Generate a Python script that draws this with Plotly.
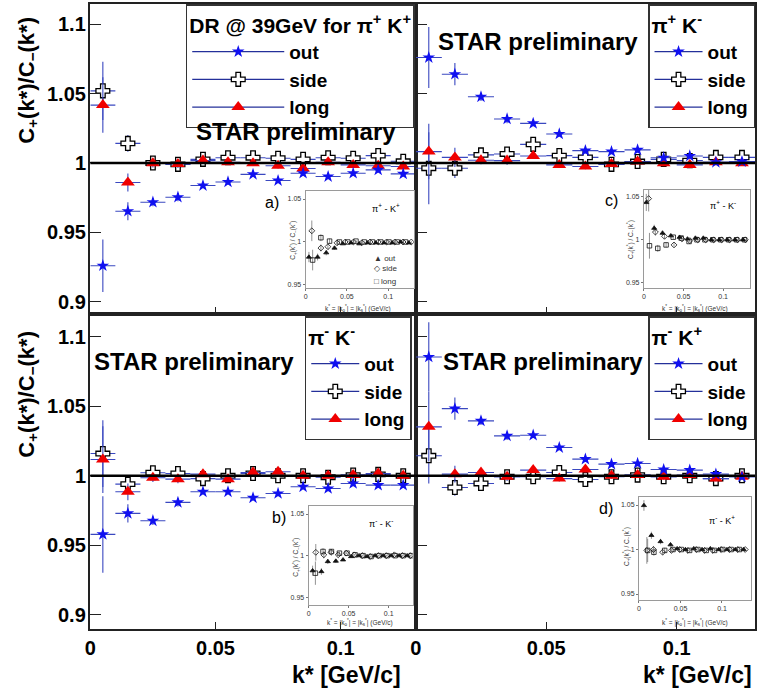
import plotly.graph_objects as go

W, H = 758, 691
def fx(px):
    return px / W
def fy(py):
    return 1 - py / H

# ---------------- data ----------------
k_star = [0.005, 0.015, 0.025, 0.035, 0.045, 0.055, 0.065, 0.075, 0.085, 0.095, 0.105, 0.115, 0.125]
k_half_bin = 0.005

# pi+ K+
pipKp_out = [0.9259, 0.9652, 0.9717, 0.9753, 0.9837, 0.9863, 0.9918, 0.9873, 0.9926, 0.9902, 0.9926, 0.9950, 0.9921]
pipKp_out_err = [0.019, 0.0065, 0.003, 0.003, 0.002, 0.002, 0.002, 0.002, 0.002, 0.002, 0.002, 0.002, 0.002]
pipKp_side = [1.0520, 1.0141, 1.0000, 0.9990, 1.0026, 1.0038, 1.0038, 1.0034, 1.0026, 1.0038, 1.0034, 1.0053, 1.0012]
pipKp_side_err = [0.021, 0.006, 0.003, 0.003, 0.002, 0.002, 0.002, 0.002, 0.002, 0.002, 0.002, 0.002, 0.002]
pipKp_long = [1.0417, 0.9859, 0.9998, 0.9993, 1.0017, 1.0005, 0.9998, 0.9980, 0.9960, 1.0005, 0.9986, 0.9980, 0.9974]
pipKp_long_err = [0.020, 0.0065, 0.003, 0.003, 0.002, 0.002, 0.002, 0.002, 0.002, 0.002, 0.002, 0.002, 0.002]

# pi+ K-
pipKm_out = [1.0760, 1.0640, 1.0477, 1.0317, 1.0285, 1.0209, 1.0089, 1.0082, 1.0094, 1.0038, 1.0050, 1.0005, 1.0010]
pipKm_out_err = [0.022, 0.008, 0.003, 0.003, 0.002, 0.002, 0.002, 0.002, 0.002, 0.002, 0.002, 0.002, 0.002]
pipKm_side = [0.9962, 0.9962, 1.0058, 1.0065, 1.0134, 1.0053, 1.0040, 0.9990, 1.0010, 1.0026, 1.0017, 1.0040, 1.0040]
pipKm_side_err = [0.026, 0.007, 0.003, 0.003, 0.002, 0.002, 0.002, 0.002, 0.002, 0.002, 0.002, 0.002, 0.002]
pipKm_long = [1.0082, 1.0040, 1.0020, 1.0017, 1.0050, 0.9986, 0.9974, 0.9993, 1.0010, 0.9998, 0.9986, 1.0005, 0.9998]
pipKm_long_err = [0.020, 0.007, 0.003, 0.003, 0.002, 0.002, 0.002, 0.002, 0.002, 0.002, 0.002, 0.002, 0.002]

# pi- K-
pimKm_out = [0.9579, 0.9730, 0.9677, 0.9809, 0.9885, 0.9885, 0.9842, 0.9873, 0.9921, 0.9909, 0.9945, 0.9933, 0.9933]
pimKm_out_err = [0.0275, 0.0066, 0.003, 0.003, 0.002, 0.002, 0.002, 0.002, 0.002, 0.002, 0.002, 0.002, 0.002]
pimKm_side = [1.0160, 0.9940, 1.0022, 1.0017, 0.9980, 1.0000, 1.0017, 1.0000, 1.0000, 0.9990, 1.0005, 1.0010, 1.0000]
pimKm_side_err = [0.024, 0.006, 0.003, 0.003, 0.002, 0.002, 0.002, 0.002, 0.002, 0.002, 0.002, 0.002, 0.002]
pimKm_long = [1.0117, 0.9885, 0.9986, 0.9976, 1.0012, 0.9976, 1.0024, 1.0029, 1.0000, 1.0000, 1.0005, 1.0017, 1.0000]
pimKm_long_err = [0.024, 0.006, 0.003, 0.003, 0.002, 0.002, 0.002, 0.002, 0.002, 0.002, 0.002, 0.002, 0.002]

# pi- K+
pimKp_out = [1.0854, 1.0483, 1.0395, 1.0287, 1.0292, 1.0203, 1.0120, 1.0084, 1.0089, 1.0045, 1.0041, 1.0012, 0.9993]
pimKp_out_err = [0.025, 0.008, 0.003, 0.003, 0.002, 0.002, 0.002, 0.002, 0.002, 0.002, 0.002, 0.002, 0.002]
pimKp_side = [1.0144, 0.9916, 0.9945, 0.9993, 0.9993, 1.0024, 0.9974, 0.9993, 1.0005, 0.9993, 1.0000, 0.9980, 1.0000]
pimKp_side_err = [0.020, 0.006, 0.003, 0.003, 0.002, 0.002, 0.002, 0.002, 0.002, 0.002, 0.002, 0.002, 0.002]
pimKp_long = [1.0352, 1.0012, 1.0024, 0.9993, 1.0041, 0.9980, 1.0045, 1.0000, 1.0005, 0.9993, 1.0005, 0.9980, 0.9993]
pimKp_long_err = [0.025, 0.006, 0.003, 0.003, 0.002, 0.002, 0.002, 0.002, 0.002, 0.002, 0.002, 0.002, 0.002]

# insets (earlier analysis)
a_out_k = [0.004, 0.0145, 0.025, 0.035, 0.045, 0.055, 0.065, 0.075, 0.085, 0.095, 0.105, 0.115, 0.125]
a_out = [0.9825, 0.9825, 0.9875, 0.993, 0.998, 0.999, 0.998, 0.999, 0.999, 0.999, 0.999, 1.0, 0.999]
a_out_err = [0.006, 0.004, 0.003, 0.002, 0.001, 0.001, 0.001, 0.001, 0.001, 0.001, 0.001, 0.001, 0.001]
a_side_k = [0.0075, 0.0185, 0.027, 0.038, 0.048, 0.058, 0.068, 0.078, 0.088, 0.098, 0.108, 0.118, 0.128]
a_side = [1.013, 0.993, 0.9945, 0.999, 1.0, 1.0, 0.999, 1.0, 1.0, 1.0, 1.0, 1.0, 1.0]
a_side_err = [0.012, 0.004, 0.003, 0.002, 0.001, 0.001, 0.001, 0.001, 0.001, 0.001, 0.001, 0.001, 0.001]
a_long_k = [0.0085, 0.0185, 0.029, 0.041, 0.051, 0.061, 0.071, 0.081, 0.091, 0.101, 0.111, 0.121]
a_long = [0.979, 1.005, 1.001, 1.0, 1.0, 1.001, 1.0, 1.0, 1.0, 1.0, 1.0, 1.0]
a_long_err = [0.012, 0.004, 0.003, 0.002, 0.001, 0.001, 0.001, 0.001, 0.001, 0.001, 0.001, 0.001]

c_out_k = [0.003, 0.013, 0.0235, 0.034, 0.045, 0.055, 0.065, 0.075, 0.085, 0.095, 0.105, 0.115, 0.125]
c_out = [1.0435, 1.0135, 1.0078, 1.0047, 1.003, 1.001, 1.002, 1.002, 1.0, 1.0, 1.0, 1.0, 1.0]
c_out_err = [0.010, 0.004, 0.003, 0.002, 0.001, 0.001, 0.001, 0.001, 0.001, 0.001, 0.001, 0.001, 0.001]
c_side_k = [0.006, 0.0145, 0.026, 0.038, 0.048, 0.058, 0.068, 0.078, 0.088, 0.098, 0.108, 0.118, 0.128]
c_side = [1.048, 1.009, 1.004, 0.994, 1.001, 0.999, 1.0, 1.0, 1.0, 1.0, 1.0, 1.0, 1.0]
c_side_err = [0.015, 0.004, 0.003, 0.002, 0.001, 0.001, 0.001, 0.001, 0.001, 0.001, 0.001, 0.001, 0.001]
c_long_k = [0.007, 0.0175, 0.028, 0.037, 0.047, 0.057, 0.067, 0.077, 0.087, 0.097, 0.107, 0.117, 0.127]
c_long = [0.993, 0.990, 0.994, 1.003, 1.002, 0.998, 1.0, 1.0, 1.0, 1.0, 1.0, 1.0, 1.0]
c_long_err = [0.015, 0.004, 0.003, 0.002, 0.001, 0.001, 0.001, 0.001, 0.001, 0.001, 0.001, 0.001, 0.001]

b_out_k = [0.005, 0.016, 0.024, 0.034, 0.043, 0.053, 0.063, 0.073, 0.083, 0.093, 0.103, 0.113, 0.123]
b_out = [0.982, 0.981, 0.993, 0.9935, 0.995, 0.999, 1.0, 0.999, 1.0, 1.0, 1.0, 1.0, 1.0]
b_out_err = [0.006, 0.004, 0.003, 0.002, 0.001, 0.001, 0.001, 0.001, 0.001, 0.001, 0.001, 0.001, 0.001]
b_side_k = [0.009, 0.019, 0.028, 0.037, 0.047, 0.057, 0.067, 0.077, 0.087, 0.097, 0.107, 0.117, 0.127]
b_side = [1.004, 1.001, 1.004, 1.001, 1.003, 1.001, 1.0, 0.999, 1.0, 1.0, 1.001, 1.0, 1.0]
b_side_err = [0.010, 0.004, 0.003, 0.002, 0.001, 0.001, 0.001, 0.001, 0.001, 0.001, 0.001, 0.001, 0.001]
b_long_k = [0.0085, 0.018, 0.0285, 0.0385, 0.048, 0.058, 0.068, 0.078, 0.088, 0.098, 0.108, 0.118, 0.128]
b_long = [0.979, 1.005, 1.005, 1.003, 1.003, 1.001, 1.0, 0.999, 1.0, 1.0, 1.0, 1.0, 1.0]
b_long_err = [0.014, 0.004, 0.003, 0.002, 0.001, 0.001, 0.001, 0.001, 0.001, 0.001, 0.001, 0.001, 0.001]

d_out_k = [0.006, 0.015, 0.026, 0.038, 0.046, 0.056, 0.066, 0.076, 0.086, 0.096, 0.106, 0.116, 0.126]
d_out = [1.0495, 1.016, 1.009, 1.0054, 1.001, 1.0, 1.001, 1.0, 1.001, 1.0, 1.0, 1.0, 1.0]
d_out_err = [0.006, 0.004, 0.003, 0.002, 0.001, 0.001, 0.001, 0.001, 0.001, 0.001, 0.001, 0.001, 0.001]
d_side_k = [0.0095, 0.0175, 0.0285, 0.039, 0.049, 0.059, 0.069, 0.079, 0.089, 0.099, 0.109, 0.119, 0.128]
d_side = [0.999, 1.0, 0.997, 0.999, 1.0, 0.999, 1.0, 0.999, 0.999, 1.0, 1.0, 1.0, 1.0]
d_side_err = [0.015, 0.004, 0.003, 0.002, 0.001, 0.001, 0.001, 0.001, 0.001, 0.001, 0.001, 0.001, 0.001]
d_long_k = [0.0105, 0.018, 0.031, 0.041, 0.051, 0.061, 0.071, 0.081, 0.091, 0.101, 0.111, 0.121]
d_long = [0.999, 0.997, 0.999, 1.0, 1.0, 0.999, 1.0, 0.999, 0.999, 1.0, 1.0, 1.0]
d_long_err = [0.013, 0.004, 0.003, 0.002, 0.001, 0.001, 0.001, 0.001, 0.001, 0.001, 0.001, 0.001]

y_ticks = [0.9, 0.95, 1.0, 1.05, 1.1]
y_tick_labels = ["0.9", "0.95", "1", "1.05", "1.1"]
x_ticks = [0, 0.05, 0.1]
x_tick_labels = ["0", "0.05", "0.1"]
inset_y_ticks = [0.95, 1.0, 1.05]
inset_y_tick_labels = ["0.95", "1", "1.05"]

# ---------------- style ----------------
FONT = "Liberation Sans"
BLUE = "#1010f0"
RED = "#f00000"
ERRC = "#3a48c0"
LEGLINE = "#24309a"

fig = go.Figure()

panels = [
    ("", pipKp_out, pipKp_out_err, pipKp_side, pipKp_side_err, pipKp_long, pipKp_long_err, "legend",
     "DR @ 39GeV for π<sup>+</sup> K<sup>+</sup>"),
    ("2", pipKm_out, pipKm_out_err, pipKm_side, pipKm_side_err, pipKm_long, pipKm_long_err, "legend2",
     "π<sup>+</sup> K<sup>-</sup>"),
    ("3", pimKm_out, pimKm_out_err, pimKm_side, pimKm_side_err, pimKm_long, pimKm_long_err, "legend3",
     "π<sup>-</sup> K<sup>-</sup>"),
    ("4", pimKp_out, pimKp_out_err, pimKp_side, pimKp_side_err, pimKp_long, pimKp_long_err, "legend4",
     "π<sup>-</sup> K<sup>+</sup>"),
]

marker_side = dict(symbol="cross", size=11.5, color="white", line=dict(color="black", width=1.3))
marker_long = dict(symbol="triangle-up", size=12, color=RED, line=dict(width=0))
marker_out = dict(symbol="star", size=9.5, color=BLUE, line=dict(width=0))

for suf, o, oe, s, se, l, le, leg, _ in panels:
    xa, ya = "x" + suf, "y" + suf
    for yv, ye, mk, nm in [(s, se, marker_side, "side"), (l, le, marker_long, "long"), (o, oe, marker_out, "out")]:
        fig.add_trace(go.Scatter(
            x=k_star, y=yv, mode="markers", marker=mk, name=nm, showlegend=False,
            error_x=dict(type="constant", value=k_half_bin, color=ERRC, thickness=1.1, width=0),
            error_y=dict(type="data", array=ye, color=ERRC, thickness=1.1, width=0),
            xaxis=xa, yaxis=ya, cliponaxis=True))
    for mk, nm, rk in [(marker_out, "out", 1), (marker_side, "side", 2), (marker_long, "long", 3)]:
        fig.add_trace(go.Scatter(
            x=[None], y=[None], mode="lines+markers", marker=mk, name=nm,
            line=dict(color=LEGLINE, width=1.3), legend=leg, legendrank=rk,
            xaxis=xa, yaxis=ya, showlegend=True))

insets = [
    ("5", a_out_k, a_out, a_out_err, a_side_k, a_side, a_side_err, a_long_k, a_long, a_long_err),
    ("6", c_out_k, c_out, c_out_err, c_side_k, c_side, c_side_err, c_long_k, c_long, c_long_err),
    ("7", b_out_k, b_out, b_out_err, b_side_k, b_side, b_side_err, b_long_k, b_long, b_long_err),
    ("8", d_out_k, d_out, d_out_err, d_side_k, d_side, d_side_err, d_long_k, d_long, d_long_err),
]
for suf, ok, o, oe, sk, s, se, lk, l, le in insets:
    for xx, yy, ee, sym in [(lk, l, le, "square-open"), (sk, s, se, "diamond-open"), (ok, o, oe, "triangle-up")]:
        fig.add_trace(go.Scatter(
            x=xx, y=yy, mode="markers",
            marker=dict(symbol=sym, size=4.5, color="#111", line=dict(color="#111", width=0.8)),
            error_y=dict(type="data", array=ee, color="#777", thickness=0.8, width=0),
            xaxis="x" + suf, yaxis="y" + suf, showlegend=False))

# ---------------- layout ----------------
main_dom = {
    "": ((85, 413), (4, 314), (0.8911, 1.1146)),
    "2": ((413, 755), (4, 314), (0.8911, 1.1146)),
    "3": ((85, 413), (314, 629), (0.8899, 1.1163)),
    "4": ((413, 755), (314, 629), (0.8899, 1.1163)),
}
inset_dom = {
    "5": ((302, 411), (191, 288), (0, 0.131), (0.9465, 1.0593)),
    "6": ((643, 750), (190, 288), (0, 0.134), (0.9438, 1.058)),
    "7": ((305, 410), (506, 605), (0, 0.130), (0.9408, 1.0596)),
    "8": ((638, 751), (497, 600), (0, 0.135), (0.9433, 1.059)),
}

layout = dict(
    width=W, height=H, margin=dict(l=0, r=0, t=0, b=0),
    paper_bgcolor="white", plot_bgcolor="white",
    font=dict(family=FONT, color="black"),
    showlegend=True,
)

for suf, ((x0, x1), (y0, y1), yr) in main_dom.items():
    bottom = suf in ("3", "4")
    layout["xaxis" + suf] = dict(
        domain=[fx(x0), fx(x1)], range=[0, 0.13], anchor="y" + suf,
        showline=True, mirror=True, linecolor="#222", linewidth=1.6,
        ticks="inside", ticklen=7, tickwidth=1.2, tickcolor="#222",
        tickvals=x_ticks, ticktext=x_tick_labels,
        showticklabels=bottom, showgrid=False, zeroline=False,
        tickfont=dict(family=FONT, size=20, color="black", weight="bold"))
    layout["yaxis" + suf] = dict(
        domain=[fy(y1), fy(y0)], range=list(yr), anchor="x" + suf,
        showline=True, mirror=True, linecolor="#222", linewidth=1.6,
        ticks="inside", ticklen=11, tickwidth=1.2, tickcolor="#222",
        tickvals=y_ticks, showticklabels=False, showgrid=False, zeroline=False)

for suf, ((x0, x1), (y0, y1), xr, yr) in inset_dom.items():
    layout["xaxis" + suf] = dict(
        domain=[fx(x0), fx(x1)], range=list(xr), anchor="y" + suf,
        showline=True, mirror=True, linecolor="#9a9a9a", linewidth=1,
        ticks="outside", ticklen=2, tickcolor="#777",
        tickvals=x_ticks, ticktext=x_tick_labels,
        showgrid=False, zeroline=False,
        tickfont=dict(family=FONT, size=7, color="#333"))
    layout["yaxis" + suf] = dict(
        domain=[fy(y1), fy(y0)], range=list(yr), anchor="x" + suf,
        showline=True, mirror=True, linecolor="#9a9a9a", linewidth=1,
        ticks="outside", ticklen=2, tickcolor="#777",
        tickvals=inset_y_ticks, ticktext=inset_y_tick_labels,
        showgrid=False, zeroline=False,
        tickfont=dict(family=FONT, size=7, color="#333"))

leg_pos = {"legend": (412, 4, 21), "legend2": (755, 4, 21), "legend3": (409, 316, 21), "legend4": (755, 316, 21)}
for suf, o, oe, s, se, l, le, leg, title in panels:
    xr_, yt, tsize = leg_pos[leg]
    layout[leg] = dict(
        x=fx(xr_), y=fy(yt), xanchor="right", yanchor="top", xref="paper", yref="paper",
        bgcolor="white", bordercolor="#333", borderwidth=1.5,
        font=dict(family=FONT, size=19, color="black", weight="bold"),
        title=dict(text=title, font=dict(family=FONT, size=tsize, color="black", weight="bold")),
        itemwidth=92 if leg == "legend" else 48,
        tracegroupgap=0,
    )

shapes = []
for suf in ["", "2", "3", "4"]:
    shapes.append(dict(type="line", xref=("x" + suf) + " domain", yref="y" + suf,
                       x0=0, x1=1, y0=1, y1=1, line=dict(color="black", width=2.5), layer="above"))
for suf in ["5", "6", "7", "8"]:
    shapes.append(dict(type="line", xref=("x" + suf) + " domain", yref="y" + suf,
                       x0=0, x1=1, y0=1, y1=1, line=dict(color="#999", width=0.8, dash="dot"), layer="below"))
layout["shapes"] = shapes

ann = []
def add_text(text, x, y, size, bold=False, xanchor="center", yanchor="middle", angle=0, color="black"):
    ann.append(dict(text=text, x=fx(x), y=fy(y), xref="paper", yref="paper", showarrow=False,
                    xanchor=xanchor, yanchor=yanchor, textangle=angle,
                    font=dict(family=FONT, size=size, color=color, weight="bold" if bold else "normal")))

# y tick labels for the left panels, placed on the axis scale
for ysuf in ["", "3"]:
    for v, t in zip(y_ticks, y_tick_labels):
        ann.append(dict(text=t, x=fx(83), y=v, xref="paper", yref="y" + ysuf, showarrow=False,
                        xanchor="right", yanchor="middle",
                        font=dict(family=FONT, size=20, color="black", weight="bold")))

add_text("STAR preliminary", 292, 132, 24, bold=True)
add_text("STAR preliminary", 536, 41, 24, bold=True)
add_text("STAR preliminary", 190, 362, 24, bold=True)
add_text("STAR preliminary", 541, 362, 24, bold=True)
ytitle = "C<sub>+</sub>(k*)/C<sub>−</sub>(k*)"
add_text(ytitle, 22, 80, 22, bold=True, angle=-90)
add_text(ytitle, 22, 394, 22, bold=True, angle=-90)
add_text("k* [GeV/c]", 400, 675, 23, bold=True, xanchor="right")
add_text("k* [GeV/c]", 754, 675, 23, bold=True, xanchor="right")
add_text("a)", 268, 202, 16)
add_text("c)", 610, 200, 16)
add_text("b)", 275, 517, 16)
add_text("d)", 605, 508, 16)
add_text("π<sup>+</sup> - K<sup>+</sup>", 383, 208, 9)
add_text("π<sup>+</sup> - K<sup>-</sup>", 723, 205, 9)
add_text("π<sup>-</sup> - K<sup>-</sup>", 378, 523, 9)
add_text("π<sup>-</sup> - K<sup>+</sup>", 722, 520, 9)
inset_ytitle = "C<sub>+</sub>(k<sup>*</sup>) / C<sub>−</sub>(k<sup>*</sup>)"
inset_xtitle = "k<sup>*</sup> = |k<sub>o</sub><sup>*</sup>| = |k<sub>s</sub><sup>*</sup>| (GeV/c)"
for (xt, yt), (xx, yx) in [((289, 240), (355, 308)), ((629, 240), (695, 308)),
                           ((292, 557), (357, 622)), ((625, 547), (694, 622))]:
    add_text(inset_ytitle, xt, yt, 6.5, angle=-90, color="#333")
    add_text(inset_xtitle, xx, yx, 6.5, color="#333")
add_text("▲ out", 369, 258, 8, xanchor="left", color="#333")
add_text("◇ side", 369, 269, 8, xanchor="left", color="#333")
add_text("□ long", 369, 281, 8, xanchor="left", color="#333")
layout["annotations"] = ann

fig.update_layout(**layout)
fig.write_html("out.html")
